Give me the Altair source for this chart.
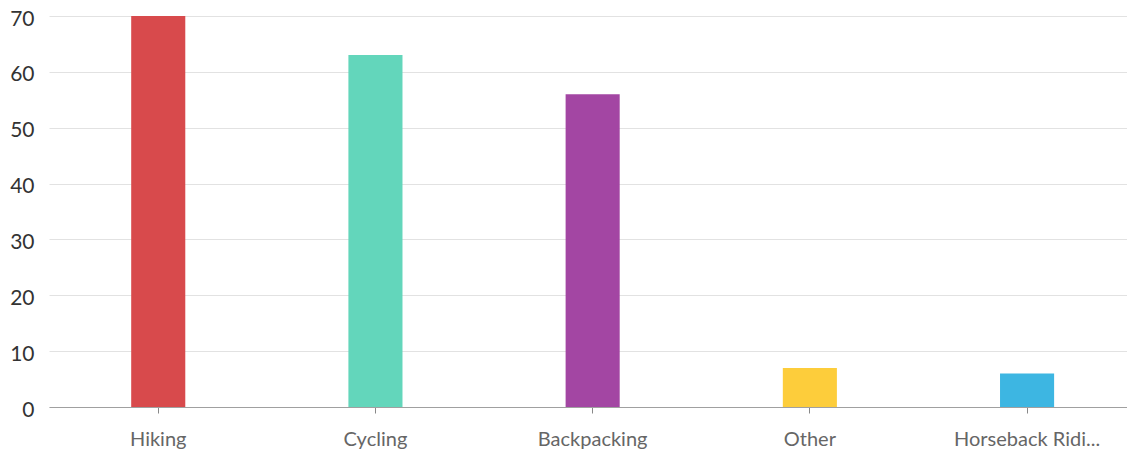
import altair as alt
import pandas as pd

categories = ["Hiking", "Cycling", "Backpacking", "Other", "Horseback Riding"]
values = [70, 63, 56, 7, 6]
colors = ["#d84a4c", "#63d6bb", "#a346a3", "#fdcd3b", "#3db6e2"]

df = pd.DataFrame({"category": categories, "value": values})

chart = alt.Chart(df).mark_bar().encode(
    x=alt.X(
        "category:N",
        sort=categories,
        title=None,
        scale=alt.Scale(paddingInner=0.751, paddingOuter=0.357, align=0.53),
        axis=alt.Axis(
            labelAngle=0,
            labelFont="Lato",
            labelFontSize=20,
            labelColor="#666666",
            labelPadding=16,
            domainColor="#a0a0a0",
            tickColor="#888888",
            tickSize=6,
            grid=False,
            labelExpr="length(datum.label) > 14 ? slice(datum.label, 0, 14) + '...' : datum.label",
        ),
    ),
    y=alt.Y(
        "value:Q",
        title=None,
        scale=alt.Scale(domain=[0, 70], nice=False),
        axis=alt.Axis(
            values=[0, 10, 20, 30, 40, 50, 60, 70],
            labelFont="Lato",
            labelFontSize=21,
            labelColor="#333333",
            labelPadding=15,
            labelOffset=3,
            domain=False,
            ticks=False,
            gridColor="#e2e2e2",
        ),
    ),
    color=alt.Color(
        "category:N",
        scale=alt.Scale(domain=categories, range=colors),
        legend=None,
    ),
).properties(
    width=1078,
    height=391,
    autosize=alt.AutoSizeParams(type="none"),
    padding={"left": 41, "top": 8, "right": 0, "bottom": 42},
).configure_view(stroke=None)

chart.save("out.html", embed_options={"renderer": "svg", "actions": False})
